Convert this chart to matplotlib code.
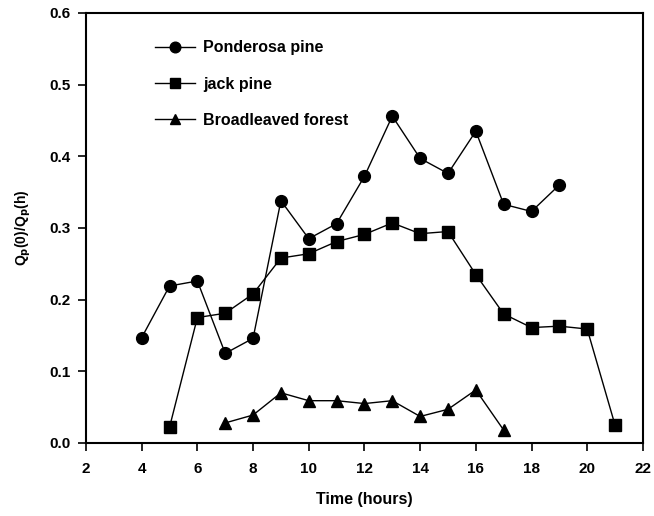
import matplotlib
matplotlib.use("Agg")
import matplotlib.pyplot as plt

plt.rcParams['font.family'] = ['Liberation Sans', 'DejaVu Sans']
plt.rcParams['font.weight'] = 'bold'

hours_pp = [4, 5, 6, 7, 8, 9, 10, 11, 12, 13, 14, 15, 16, 17, 18, 19]
ponderosa = [0.147, 0.219, 0.226, 0.125, 0.146, 0.338, 0.285, 0.306, 0.372,
             0.456, 0.397, 0.376, 0.435, 0.333, 0.323, 0.360]

hours_jp = [5, 6, 7, 8, 9, 10, 11, 12, 13, 14, 15, 16, 17, 18, 19, 20, 21]
jack = [0.022, 0.175, 0.181, 0.208, 0.258, 0.264, 0.281, 0.291, 0.307, 0.292,
        0.295, 0.235, 0.180, 0.161, 0.163, 0.159, 0.025]

hours_bf = [7, 8, 9, 10, 11, 12, 13, 14, 15, 16, 17]
broad = [0.028, 0.039, 0.070, 0.059, 0.059, 0.055, 0.059, 0.037, 0.047, 0.074, 0.018]

fig = plt.figure(figsize=(6.54, 5.16), dpi=100)
ax = fig.add_axes([0.1315, 0.1415, 0.8515, 0.8335])

kw = dict(color='black', lw=1.0, markersize=8.5)
ax.plot(hours_pp, ponderosa, marker='o', label='Ponderosa pine', **kw)
ax.plot(hours_jp, jack, marker='s', label='jack pine', **kw)
ax.plot(hours_bf, broad, marker='^', label='Broadleaved forest', **kw)

ax.set_xlim(2, 22)
ax.set_ylim(0, 0.6)
ax.set_xticks(range(2, 23, 2))
ax.set_yticks([0, 0.1, 0.2, 0.3, 0.4, 0.5, 0.6])
ax.set_yticklabels(['0.0', '0.1', '0.2', '0.3', '0.4', '0.5', '0.6'])
ax.tick_params(direction='out', length=6, width=1.2, labelsize=11, top=False, right=False)
ax.tick_params(axis='x', pad=8)
ax.tick_params(axis='y', pad=5)
for s in ax.spines.values():
    s.set_linewidth(1.5)

ax.set_xlabel('Time (hours)', fontsize=11.5, fontweight='bold', labelpad=11)
ax.set_ylabel(r'Q$_\mathbf{p}$(0)/Q$_\mathbf{p}$(h)', fontsize=10, fontweight='bold', labelpad=12)

ax.legend(loc='upper left', bbox_to_anchor=(0.124, 0.936), frameon=False,
          borderaxespad=0, borderpad=0, fontsize=11.5, handlelength=2.5,
          handletextpad=0.5, labelspacing=1.32, markerscale=0.9)

plt.savefig('out.png', dpi=100)
